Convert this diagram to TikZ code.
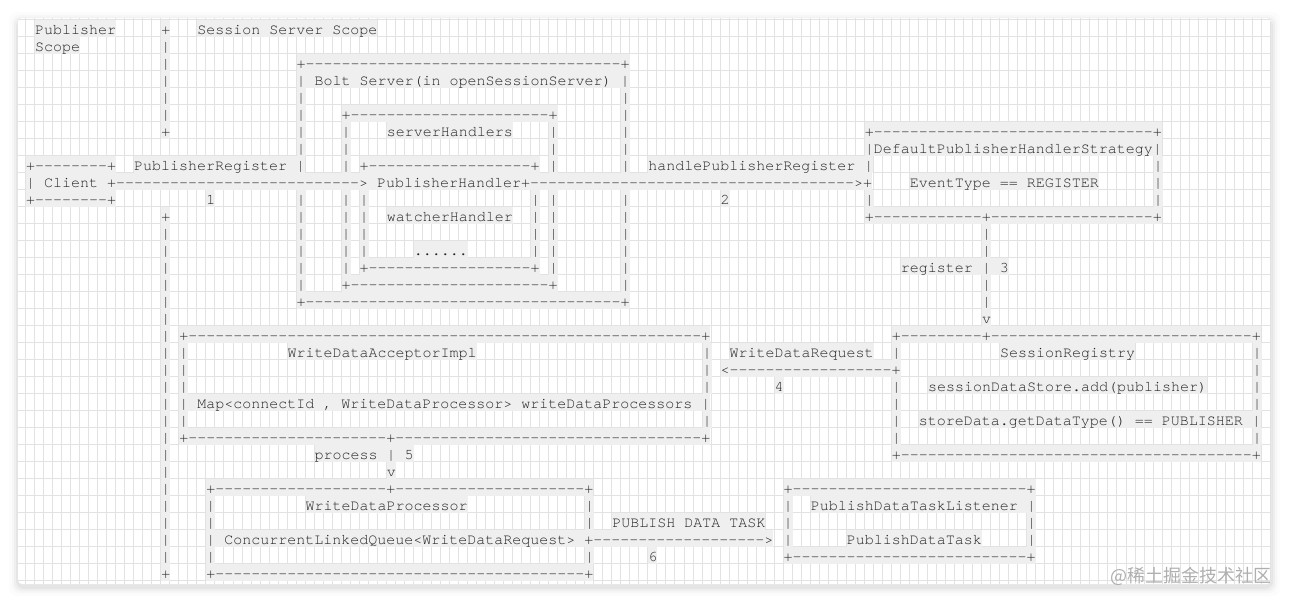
\documentclass[tikz,border=0pt]{standalone}
\usepackage{fontspec}
\setmonofont{texgyrecursor-regular.otf}
\newfontfamily\cjkfont{Noto Sans CJK SC}
\usepackage{tikz}

\definecolor{txt}{RGB}{35,35,35}
\definecolor{hl}{RGB}{239,239,239}
\definecolor{gridc}{RGB}{226,226,226}
\definecolor{wmark}{RGB}{175,175,175}

\tikzset{seg/.style={anchor=west, inner xsep=0pt, inner ysep=0pt, fill=hl, text=txt,
  text height=14.7pt, text depth=2.3pt, font=\ttfamily\fontsize{15}{17}\selectfont}}

\newcommand{\dashes}[1]{\foreach \i in {1,...,#1}{-}}
\newcommand{\seg}[3]{\node[seg] (r#2c#1) at ({25.8+9.02*#1},{28.3+17*#2}) {#3};}

\begin{document}
\begin{tikzpicture}[x=1pt,y=-1pt]
\useasboundingbox (0,0) rectangle (1290,604);
% card and shadow
\foreach \s/\o in {9/0.012, 6/0.02, 4/0.03, 2/0.045}
  {\fill[black, opacity=\o, rounded corners=8] (18-\s,18-\s+3) rectangle (1271+\s,584+\s+3);}
\fill[white, rounded corners=4] (18,18) rectangle (1271,584);
\begin{scope}
\clip[rounded corners=4] (18,18) rectangle (1271,584);
\foreach \k in {0,...,139} {\draw[gridc, line width=0.9pt] ({25.5+9.02*\k},18) -- ({25.5+9.02*\k},584);}
\foreach \k in {0,...,33} {\draw[gridc, line width=0.9pt] (18,{19.3+17*\k}) -- (1271,{19.3+17*\k});}
\end{scope}

% scopes
\seg{1}{0}{Publisher}
\seg{19}{0}{Session Server Scope}
\seg{1}{1}{Scope}
\foreach \rr in {0,6,11,32} {\seg{15}{\rr}{+}}
\foreach \rr in {1,...,5} {\seg{15}{\rr}{|}}
\foreach \rr in {12,...,31} {\seg{15}{\rr}{|}}

% bolt server
\seg{30}{2}{+\dashes{35}+}
\seg{30}{3}{| Bolt Server(in openSessionServer) |}
\foreach \rr in {4,5,6,7,10,11,12,13,14,15} {\seg{30}{\rr}{|}}
\foreach \rr in {4,5,6,7,8,10,11,12,13,14,15} {\seg{66}{\rr}{|}}
\seg{30}{16}{+\dashes{35}+}
\seg{35}{5}{+\dashes{22}+}
\seg{40}{6}{serverHandlers}
\foreach \rr in {6,7,8,10,11,12,13,14} {\seg{35}{\rr}{|} \seg{58}{\rr}{|}}
\seg{35}{15}{+\dashes{22}+}
\seg{37}{8}{+\dashes{18}+}
\foreach \rr in {10,...,13} {\seg{37}{\rr}{|} \seg{56}{\rr}{|}}
\seg{40}{11}{watcherHandler}
\seg{43}{13}{......}
\seg{37}{14}{+\dashes{18}+}

% client and first calls
\seg{0}{8}{+\dashes{8}+}
\seg{12}{8}{PublisherRegister |}
\seg{0}{9}{| Client +\dashes{27}> PublisherHandler+\dashes{36}>+}
\seg{0}{10}{+\dashes{8}+}
\seg{20}{10}{1}
\seg{69}{8}{handlePublisherRegister |}
\seg{77}{10}{2}

% strategy
\seg{93}{6}{+\dashes{31}+}
\seg{93}{7}{|DefaultPublisherHandlerStrategy|}
\seg{98}{9}{EventType == REGISTER}
\seg{93}{10}{|}
\foreach \rr in {8,9,10} {\seg{125}{\rr}{|}}
\seg{93}{11}{+\dashes{12}+\dashes{18}+}
\foreach \rr in {12,13,15,16} {\seg{106}{\rr}{|}}
\seg{97}{14}{register | 3}
\seg{106}{17}{v}

% acceptor and registry
\seg{17}{18}{+\dashes{57}+}
\seg{29}{19}{WriteDataAcceptorImpl}
\foreach \rr in {19,20,21,23} {\seg{17}{\rr}{|} \seg{75}{\rr}{|}}
\seg{17}{22}{| Map<connectId , WriteDataProcessor> writeDataProcessors |}
\seg{17}{24}{+\dashes{22}+\dashes{34}+}
\seg{78}{19}{WriteDataRequest}
\seg{77}{20}{<\dashes{18}+}
\seg{83}{21}{4}
\seg{96}{18}{+\dashes{9}+\dashes{29}+}
\seg{108}{19}{SessionRegistry}
\seg{100}{21}{sessionDataStore.add(publisher)}
\seg{99}{23}{storeData.getDataType() == PUBLISHER |}
\foreach \rr in {19,21,22,23,24} {\seg{96}{\rr}{|}}
\foreach \rr in {19,20,21,22,24} {\seg{136}{\rr}{|}}
\seg{96}{25}{+\dashes{39}+}
\seg{32}{25}{process | 5}
\seg{40}{26}{v}

% processor and listener
\seg{20}{27}{+\dashes{19}+\dashes{21}+}
\seg{31}{28}{WriteDataProcessor}
\foreach \rr in {28,29,31} {\seg{20}{\rr}{|} \seg{62}{\rr}{|}}
\seg{20}{30}{| ConcurrentLinkedQueue<WriteDataRequest> +\dashes{19}>}
\seg{20}{32}{+\dashes{41}+}
\seg{65}{29}{PUBLISH DATA TASK}
\seg{69}{31}{6}
\seg{84}{27}{+\dashes{26}+}
\seg{87}{28}{PublishDataTaskListener |}
\foreach \rr in {28,29,30} {\seg{84}{\rr}{|}}
\foreach \rr in {29,30} {\seg{111}{\rr}{|}}
\seg{91}{30}{PublishDataTask}
\seg{84}{31}{+\dashes{26}+}

\node[anchor=east, inner sep=0pt, text=wmark, font=\cjkfont\fontsize{18}{18}\selectfont] (mark) at (1272,576) {@稀土掘金技术社区};
\end{tikzpicture}
\end{document}
